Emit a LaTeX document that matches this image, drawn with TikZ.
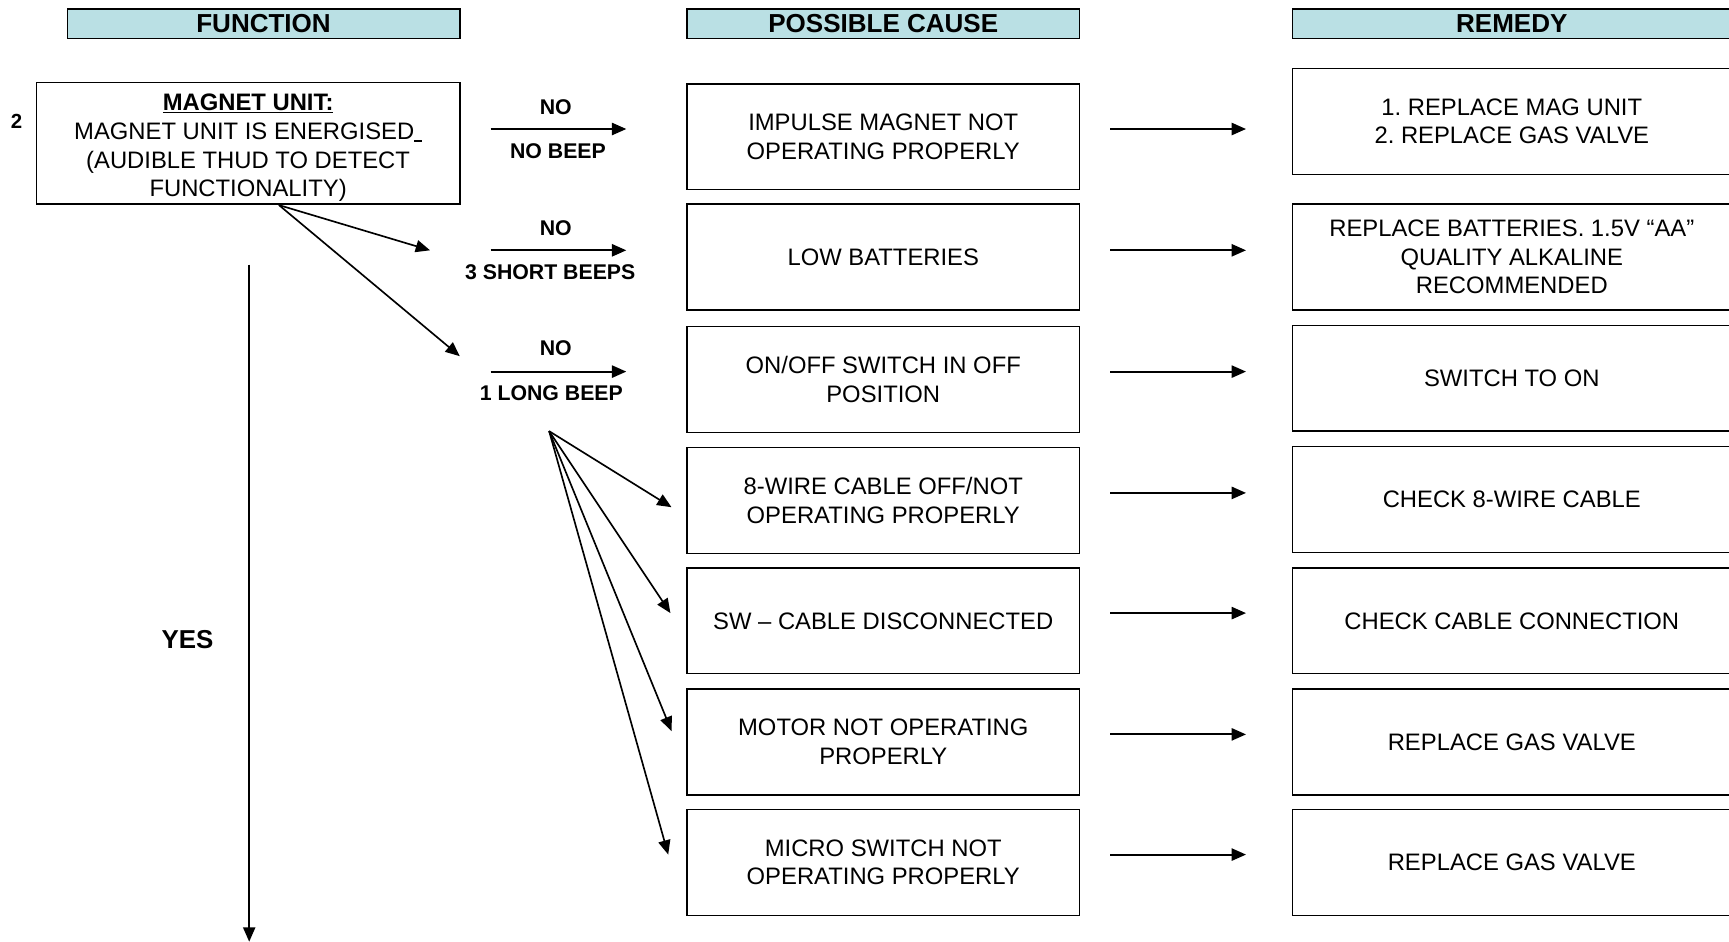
\documentclass[tikz,border=0pt]{standalone}
\usepackage{fontspec}
\setmainfont{Liberation Sans}
\usetikzlibrary{arrows.meta,calc}
\frenchspacing
\definecolor{hdrfill}{RGB}{186,224,228}
\tikzset{
  hdr/.style={draw=black, line width=1.3pt, fill=hdrfill, minimum height=27pt, inner sep=0pt,
    font=\fontsize{23.6}{26}\selectfont\bfseries},
  box/.style={draw=black, line width=1.3pt, minimum width=356pt, minimum height=96pt, inner sep=0pt,
    align=center, font=\fontsize{21.6}{26}\selectfont},
  rbox/.style={box, minimum width=398pt},
  lbl/.style={inner sep=0pt, font=\fontsize{19.3}{22}\selectfont\bfseries},
  arr/.style={line width=1.8pt, -{Triangle[length=13pt,width=11pt]}},
  arrthin/.style={line width=1.5pt, -{Triangle[length=13pt,width=11pt]}},
}
\begin{document}
\begin{tikzpicture}[x=1pt,y=-1pt]
\useasboundingbox (0,0) rectangle (1568,854);
% headers
\node[hdr, minimum width=356pt] (hf) at (239,21.5) {FUNCTION};
\node[hdr, minimum width=356pt] (hc) at (801,21.5) {POSSIBLE CAUSE};
\node[hdr, minimum width=398pt] (hr) at (1371,21.5) {REMEDY};
% function box
\node[box, minimum width=384pt, minimum height=110pt] (mag) at (225,130)
  {\rule{0pt}{23.5pt}\underline{\bfseries MAGNET UNIT:}\\
   MAGNET UNIT IS ENERGISED\rule[-2.5pt]{7pt}{2pt}\\
   (AUDIBLE THUD TO DETECT\\
   FUNCTIONALITY)};
\node[inner sep=0pt, font=\fontsize{18.5}{20}\selectfont\bfseries] (num) at (15,110) {2};
% cause boxes
\node[box] (c1) at (801,124) {IMPULSE MAGNET NOT\\OPERATING PROPERLY};
\node[box] (c2) at (801,233) {LOW BATTERIES};
\node[box] (c3) at (801,344) {ON/OFF SWITCH IN OFF\\POSITION};
\node[box] (c4) at (801,454) {8-WIRE CABLE OFF/NOT\\OPERATING PROPERLY};
\node[box] (c5) at (801,563) {SW -- CABLE DISCONNECTED};
\node[box] (c6) at (801,673) {MOTOR NOT OPERATING\\PROPERLY};
\node[box] (c7) at (801,782) {MICRO SWITCH NOT\\OPERATING PROPERLY};
% remedy boxes
\node[rbox] (r1) at (1371,110) {1. REPLACE MAG UNIT\\2. REPLACE GAS VALVE};
\node[rbox] (r2) at (1371,233) {REPLACE BATTERIES. 1.5V “AA”\\QUALITY ALKALINE\\RECOMMENDED};
\node[rbox] (r3) at (1371,343) {SWITCH TO ON};
\node[rbox] (r4) at (1371,453) {CHECK 8-WIRE CABLE};
\node[rbox] (r5) at (1371,563) {CHECK CABLE CONNECTION};
\node[rbox] (r6) at (1371,673) {REPLACE GAS VALVE};
\node[rbox] (r7) at (1371,782) {REPLACE GAS VALVE};
% cause -> remedy arrows
\foreach \i/\y in {1/117,2/227,3/337,4/447,5/556,6/666,7/775}{
  \coordinate (cs\i) at (1007,\y);
  \coordinate (ce\i) at (1130,\y);
  \draw[arr] (cs\i) -- (ce\i);
}
% labelled NO arrows
\foreach \i/\y in {1/117,2/227,3/337}{
  \coordinate (ns\i) at (445,\y);
  \coordinate (ne\i) at (568,\y);
  \draw[arr] (ns\i) -- (ne\i);
}
\node[lbl] (no1) at (504,97) {NO};
\node[lbl] (nb1) at (506,137) {NO BEEP};
\node[lbl] (no2) at (504,207) {NO};
\node[lbl] (nb2) at (499,247) {3 SHORT BEEPS};
\node[lbl] (no3) at (504,316) {NO};
\node[lbl] (nb3) at (500,357) {1 LONG BEEP};
% diagonals from magnet box
\coordinate (mo) at (253,186);
\coordinate (mt1) at (390,227);
\coordinate (mt2) at (417,323);
\draw[arrthin] (mo) -- (mt1);
\draw[arrthin] (mo) -- (mt2);
% fan
\coordinate (fan) at (498,391);
\coordinate (ft4) at (609,460);
\coordinate (ft5) at (608,556);
\coordinate (ft6) at (609,663);
\coordinate (ft7) at (606,775);
\foreach \t in {ft4,ft5,ft6,ft7}{\draw[arrthin] (fan) -- (\t);}
% YES arrow
\coordinate (ys) at (226,240);
\coordinate (ye) at (226,854);
\draw[arrthin] (ys) -- (ye);
\node[inner sep=0pt, font=\fontsize{23.5}{26}\selectfont\bfseries] (yes) at (170,580) {YES};
\end{tikzpicture}
\end{document}
